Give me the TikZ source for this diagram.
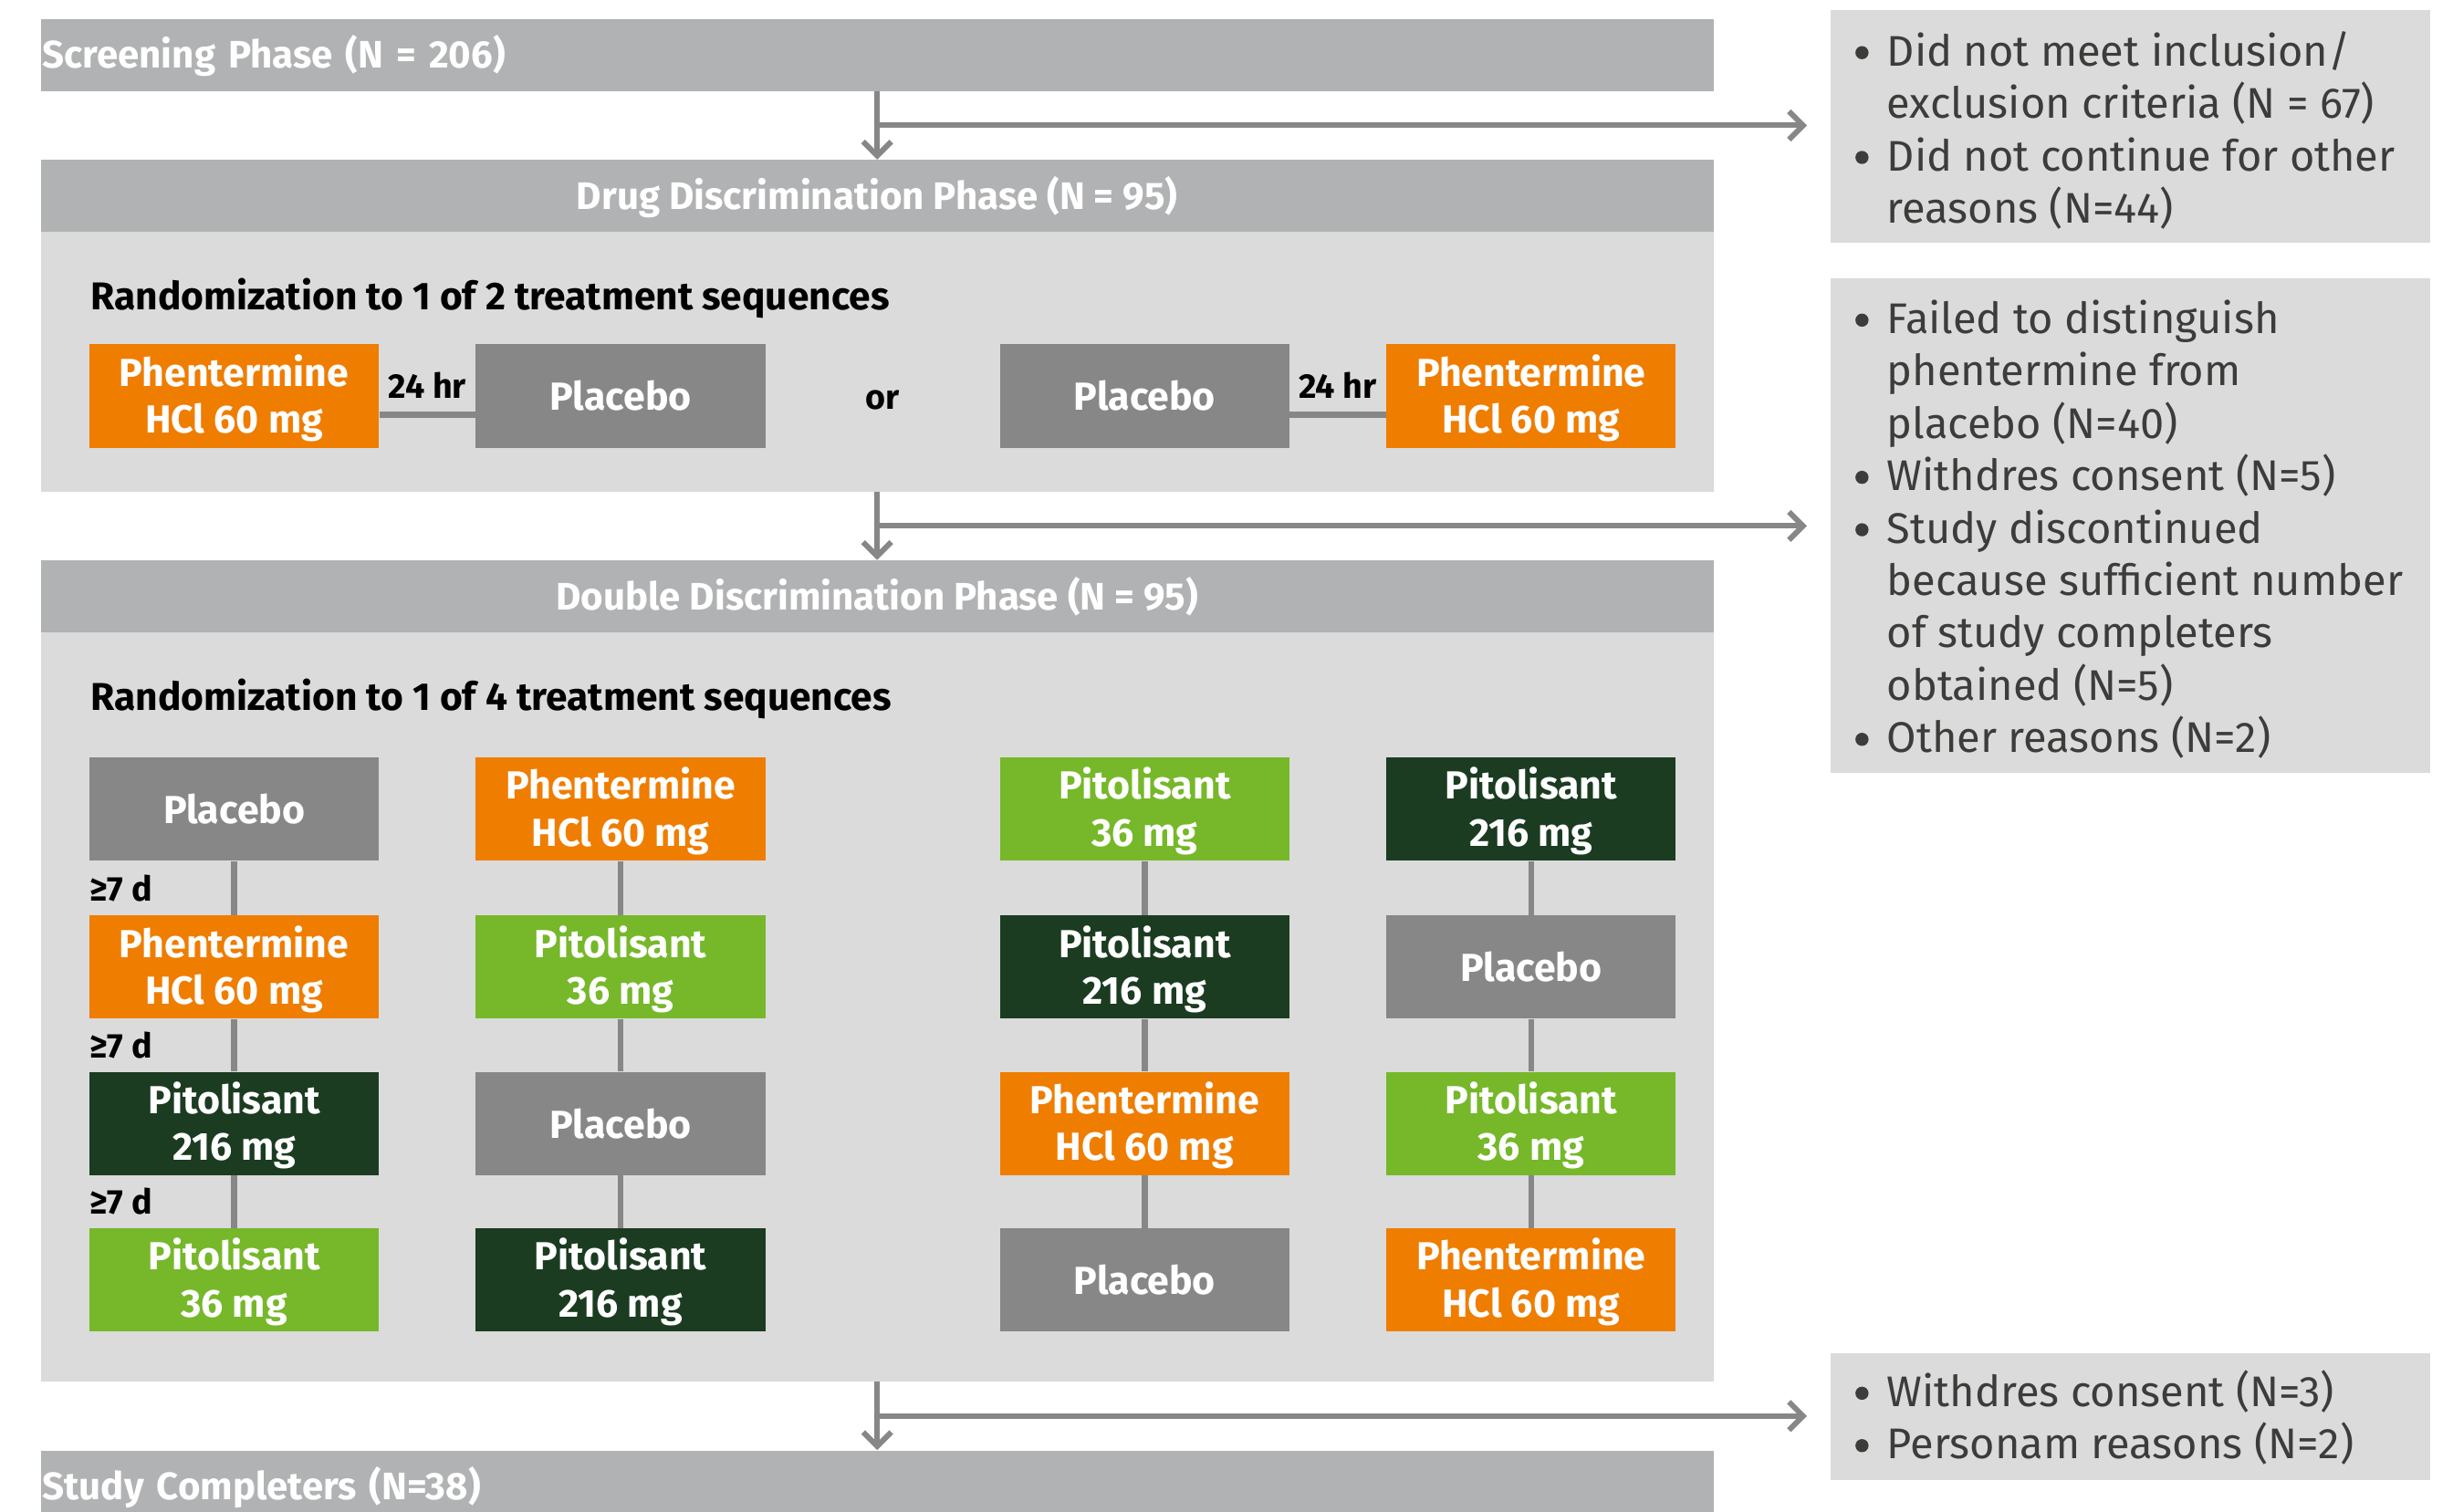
\documentclass[tikz,border=0pt]{standalone}
\usepackage{fontspec}
\setmainfont{Fira Sans}
\usetikzlibrary{arrows.meta,calc}
\definecolor{hdr}{HTML}{B1B2B3}
\definecolor{bodyg}{HTML}{DADBDA}
\definecolor{orng}{HTML}{EF7D00}
\definecolor{lgrn}{HTML}{76B82A}
\definecolor{dgrn}{HTML}{1B3C21}
\definecolor{plc}{HTML}{878787}
\definecolor{txtg}{HTML}{3C3C3B}
\newcommand\bulx{\makebox[22pt][l]{\tikz[x=1pt,y=1pt,baseline=0pt]{\path (0,0) rectangle (1,1);\fill[txtg] (6,8.5) circle (4.2);}}}
\newcommand\indx{\hspace*{22pt}}
\newcommand\tup{\rule{0pt}{23pt}}
\begin{document}
\begin{tikzpicture}[x=1pt,y=-1pt,
  bar/.style={fill=hdr, text=white, font=\fontsize{24.5}{30}\bfseries\selectfont,
    minimum width=1069pt, minimum height=46pt, inner sep=0pt, anchor=north west,
    text height=17pt, text depth=0pt},
  barl/.style={bar, text width=1067pt, inner xsep=1pt, align=left},
  bodybox/.style={fill=bodyg, minimum width=1069pt, inner sep=0pt, anchor=north west},
  tbox/.style={minimum width=185pt, minimum height=66pt, inner sep=0pt, text=white,
    font=\fontsize{25}{30}\bfseries\selectfont, align=center, anchor=north west},
  phb/.style={tbox, fill=orng},
  plb/.style={tbox, fill=plc},
  p36/.style={tbox, fill=lgrn},
  p216/.style={tbox, fill=dgrn},
  rand/.style={font=\fontsize{24.8}{30}\bfseries\selectfont, text=black, inner sep=0pt, anchor=west},
  lbl/.style={font=\fontsize{22}{26}\bfseries\selectfont, text=black, inner sep=0pt},
  conn/.style={draw=plc, line width=3.7pt},
  arr/.style={draw=plc, line width=3.5pt, -{Straight Barb[length=9pt,width=18pt]}},
  side/.style={fill=bodyg, inner sep=0pt, anchor=north west, minimum width=383pt},
  sidetext/.style={font=\fontsize{27.4}{33.5}\selectfont, text=txtg, align=left, inner sep=0pt, anchor=north west}
]
\fill[white] (0,0) rectangle (1568,966);
\clip (0,0) rectangle (1568,966);

% ---------- Screening ----------
\node[barl] (scr) at (26,12) {Screening Phase (N = 206)};

% ---------- Drug discrimination ----------
\node[bar] (drh) at (26,102) {Drug Discrimination Phase (N = 95)};
\node[bodybox, minimum height=166pt] (drb) at (26,148) {};
\node[rand] (drr) at (58,191) {Randomization to 1 of 2 treatment sequences};
\node[phb] (d1) at (57,220) {\tup Phentermine\\HCl 60 mg};
\node[plb] (d2) at (304,220) {Placebo};
\node[plb] (d3) at (639,220) {Placebo};
\node[phb] (d4) at (886,220) {\tup Phentermine\\HCl 60 mg};
\draw[conn] ($(d1.east)+(0,12)$) -- ($(d2.west)+(0,12)$);
\draw[conn] ($(d3.east)+(0,12)$) -- ($(d4.west)+(0,12)$);
\node[lbl] (h1) at ($(d1.east)!0.5!(d2.west)+(0,-7)$) {24 hr};
\node[lbl] (h2) at ($(d3.east)!0.5!(d4.west)+(0,-7)$) {24 hr};
\node[lbl] (orx) at ($(d2.east)!0.5!(d3.west)+(0,2.5)$) {or};

% ---------- Double discrimination ----------
\node[bar] (dbh) at (26,358) {Double Discrimination Phase (N = 95)};
\node[bodybox, minimum height=479pt] (dbb) at (26,404) {};
\node[rand] (dbr) at (58,447) {Randomization to 1 of 4 treatment sequences};

\node[plb]  (a1) at (57,484) {Placebo};
\node[phb]  (a2) at (57,585) {\tup Phentermine\\HCl 60 mg};
\node[p216] (a3) at (57,685) {\tup Pitolisant\\216 mg};
\node[p36]  (a4) at (57,785) {\tup Pitolisant\\36 mg};

\node[phb]  (b1) at (304,484) {\tup Phentermine\\HCl 60 mg};
\node[p36]  (b2) at (304,585) {\tup Pitolisant\\36 mg};
\node[plb]  (b3) at (304,685) {Placebo};
\node[p216] (b4) at (304,785) {\tup Pitolisant\\216 mg};

\node[p36]  (c1) at (639,484) {\tup Pitolisant\\36 mg};
\node[p216] (c2) at (639,585) {\tup Pitolisant\\216 mg};
\node[phb]  (c3) at (639,685) {\tup Phentermine\\HCl 60 mg};
\node[plb]  (c4) at (639,785) {Placebo};

\node[p216] (e1) at (886,484) {\tup Pitolisant\\216 mg};
\node[plb]  (e2) at (886,585) {Placebo};
\node[p36]  (e3) at (886,685) {\tup Pitolisant\\36 mg};
\node[phb]  (e4) at (886,785) {\tup Phentermine\\HCl 60 mg};

\foreach \c in {a,b,c,e}{
  \draw[conn] (\c1.south) -- (\c2.north);
  \draw[conn] (\c2.south) -- (\c3.north);
  \draw[conn] (\c3.south) -- (\c4.north);
}
\node[lbl, anchor=west] (g1) at ($(a1.south west)!0.5!(a2.north west)$) {≥7 d};
\node[lbl, anchor=west] (g2) at ($(a2.south west)!0.5!(a3.north west)$) {≥7 d};
\node[lbl, anchor=west] (g3) at ($(a3.south west)!0.5!(a4.north west)$) {≥7 d};

% ---------- Completers ----------
\node[barl] (cmp) at (26,927) {Study Completers (N=38)};

% ---------- Side boxes ----------
\node[side, minimum height=149pt] (r1) at (1170,6) {};
\node[sidetext] (r1t) at (1184,18.5) {\strut\bulx Did not meet inclusion/\\
\indx exclusion criteria (N = 67)\\
\bulx Did not continue for other\\
\indx reasons (N=44)};

\node[side, minimum height=316pt] (r2) at (1170,178) {};
\node[sidetext] (r2t) at (1184,189.5) {\strut\bulx Failed to distinguish\\
\indx phentermine from\\
\indx placebo (N=40)\\
\bulx Withdres consent (N=5)\\
\bulx Study discontinued\\
\indx because sufficient number\\
\indx of study completers\\
\indx obtained (N=5)\\
\bulx Other reasons (N=2)};

\node[side, minimum height=81pt] (r3) at (1170,865) {};
\node[sidetext] (r3t) at (1184,875.5) {\strut\bulx Withdres consent (N=3)\\
\bulx Personam reasons (N=2)};

% ---------- Arrows ----------
\coordinate (m1) at ($(scr.south)!0.5!(drh.north)$);
\coordinate (m2) at ($(drb.south)!0.5!(dbh.north)$);
\coordinate (m3) at ($(dbb.south)!0.5!(cmp.north)$);
\draw[arr] (scr.south) -- (drh.north);
\draw[arr] (drb.south) -- (dbh.north);
\draw[arr] (dbb.south) -- (cmp.north);
\draw[arr, shorten >=15pt] (m1) -- (m1 -| r1.west);
\draw[arr, shorten >=15pt] (m2) -- (m2 -| r2.west);
\draw[arr, shorten >=15pt] (m3) -- (m3 -| r3.west);
\end{tikzpicture}
\end{document}
